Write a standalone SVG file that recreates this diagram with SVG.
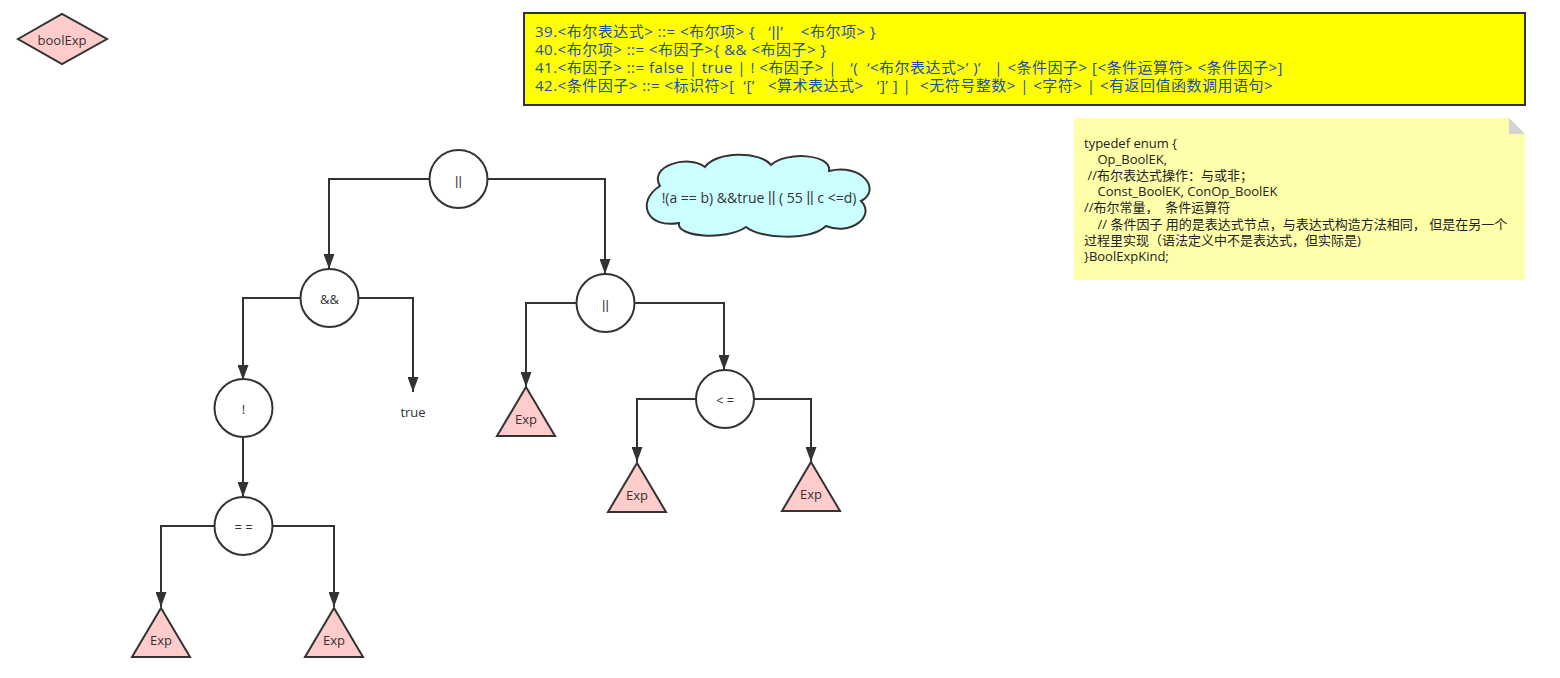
<svg xmlns="http://www.w3.org/2000/svg" width="1560" height="678" viewBox="0 0 1560 678">
<defs>
<style>
.ln{fill:none;stroke:#333;stroke-width:2}
.circ{fill:#fff;stroke:#333;stroke-width:2}
.tri{fill:#FFCCCC;stroke:#333;stroke-width:2;stroke-linejoin:miter}
.t{font-family:"Open Sans","Noto Sans CJK SC",sans-serif;font-size:13px;fill:#333;text-anchor:middle;dominant-baseline:central}
.bnf{font-family:"Open Sans","Noto Sans CJK SC",sans-serif;font-size:15px;letter-spacing:0.5px;fill:#1D4FA6}
.note{font-family:"Open Sans","Noto Sans CJK SC",sans-serif;font-size:13px;fill:#222}
.bar{font-family:"Liberation Sans",sans-serif}
</style>
<marker id="arr" viewBox="0 0 15 11" refX="15" refY="5.5" markerWidth="15" markerHeight="11" markerUnits="userSpaceOnUse" orient="auto">
<path d="M0,0 L15,5.5 L0,11 Z" fill="#333"/>
</marker>
</defs>
<rect width="1560" height="678" fill="#fff"/>

<g id="connectors">
<path class="ln" marker-end="url(#arr)" d="M429,179 H329 V269"/>
<path class="ln" marker-end="url(#arr)" d="M488,179 H605 V274"/>
<path class="ln" marker-end="url(#arr)" d="M300,298 H243 V380"/>
<path class="ln" marker-end="url(#arr)" d="M359,298 H413 V392"/>
<path class="ln" marker-end="url(#arr)" d="M243,438 V497"/>
<path class="ln" marker-end="url(#arr)" d="M214,526 H161 V607"/>
<path class="ln" marker-end="url(#arr)" d="M273,526 H334 V607"/>
<path class="ln" marker-end="url(#arr)" d="M576,303 H526 V387"/>
<path class="ln" marker-end="url(#arr)" d="M635,303 H724 V370"/>
<path class="ln" marker-end="url(#arr)" d="M696,399 H637 V462"/>
<path class="ln" marker-end="url(#arr)" d="M754,399 H811 V462"/>
</g>

<g id="boolExp">
<polygon points="18,39 62,14 107,39 62,64" fill="#FFCCCC" stroke="#333" stroke-width="2"/>
<text class="t" x="62" y="40">boolExp</text>
</g>

<g id="or-root">
<circle class="circ" cx="458.5" cy="179" r="29"/>
<text class="t bar" x="458.5" y="180">||</text>
</g>
<g id="and">
<circle class="circ" cx="329.5" cy="298" r="29"/>
<text class="t" x="329.5" y="299">&amp;&amp;</text>
</g>
<g id="or2">
<circle class="circ" cx="605.5" cy="303" r="29"/>
<text class="t bar" x="605.5" y="304">||</text>
</g>
<g id="not">
<circle class="circ" cx="243.5" cy="408" r="29"/>
<text class="t" x="243.5" y="409">!</text>
</g>
<g id="true">
<text class="t" x="413" y="412">true</text>
</g>
<g id="eq">
<circle class="circ" cx="243.5" cy="526" r="29"/>
<text class="t" x="243.5" y="527">= =</text>
</g>
<g id="le">
<circle class="circ" cx="725" cy="399" r="29"/>
<text class="t" x="725" y="400">&lt; =</text>
</g>

<g id="exp1">
<polygon class="tri" points="161,608 190,657 132,657"/>
<text class="t" x="161" y="640">Exp</text>
</g>
<g id="exp2">
<polygon class="tri" points="334,608 363,657 305,657"/>
<text class="t" x="334" y="640">Exp</text>
</g>
<g id="exp3">
<polygon class="tri" points="526,387 555,436 497,436"/>
<text class="t" x="526" y="419">Exp</text>
</g>
<g id="exp4">
<polygon class="tri" points="637,463 666,512 608,512"/>
<text class="t" x="637" y="495">Exp</text>
</g>
<g id="exp5">
<polygon class="tri" points="811,462 840,511 782,511"/>
<text class="t" x="811" y="494">Exp</text>
</g>

<g id="cloud">
<path d="M660,186 C648,166 688,154 705,167 C716,151 760,151 771,165 C786,151 832,154 829,171 C862,163 882,190 861,201 C876,216 851,236 826,226 C810,241 760,239 746,227 C726,241 676,237 679,223 C646,229 636,201 660,186 Z" fill="#CCFFFF" stroke="#333" stroke-width="2"/>
<text class="t" x="759" y="197" style="font-size:14px" xml:space="preserve">!(a == b) &amp;&amp;true <tspan class="bar">||</tspan> ( 55 <tspan class="bar">||</tspan> c &lt;=d)</text>
</g>

<g id="grammar">
<rect x="524" y="13" width="1001" height="92" fill="#FFFF00" stroke="#333" stroke-width="2"/>
<text class="bnf" x="535" y="37" xml:space="preserve">39.&lt;布尔表达式&gt; ::= &lt;布尔项&gt; {   ‘<tspan class="bar">||</tspan>’    &lt;布尔项&gt; }</text>
<text class="bnf" x="535" y="55" xml:space="preserve">40.&lt;布尔项&gt; ::= &lt;布因子&gt;{ &amp;&amp; &lt;布因子&gt; }</text>
<text class="bnf" x="535" y="73" xml:space="preserve">41.&lt;布因子&gt; ::= false | true | ! &lt;布因子&gt; |   ‘(  ‘&lt;布尔表达式&gt;’ )’   | &lt;条件因子&gt; [&lt;条件运算符&gt; &lt;条件因子&gt;]</text>
<text class="bnf" x="535" y="91" xml:space="preserve">42.&lt;条件因子&gt; ::= &lt;标识符&gt;[  ‘[’   &lt;算术表达式&gt;   ‘]’ ] |  &lt;无符号整数&gt; | &lt;字符&gt; | &lt;有返回值函数调用语句&gt;</text>
</g>

<g id="note">
<path d="M1074,118 H1509 L1525,134 V280 H1074 Z" fill="#FFFFAA"/>
<path d="M1509,118 L1525,134 H1509 Z" fill="#D4D4D4"/>
<text class="note" x="1084" y="148">typedef enum {</text>
<text class="note" x="1084" y="164" xml:space="preserve">    Op_BoolEK,</text>
<text class="note" x="1084" y="180" xml:space="preserve"> //布尔表达式操作：与或非；</text>
<text class="note" x="1084" y="196" xml:space="preserve">    Const_BoolEK, ConOp_BoolEK</text>
<text class="note" x="1084" y="212" xml:space="preserve">//布尔常量，  条件运算符</text>
<text class="note" x="1084" y="229" xml:space="preserve">    // 条件因子 用的是表达式节点，与表达式构造方法相同， 但是在另一个</text>
<text class="note" x="1084" y="245">过程里实现（语法定义中不是表达式，但实际是)</text>
<text class="note" x="1084" y="261">}BoolExpKind;</text>
</g>
</svg>
